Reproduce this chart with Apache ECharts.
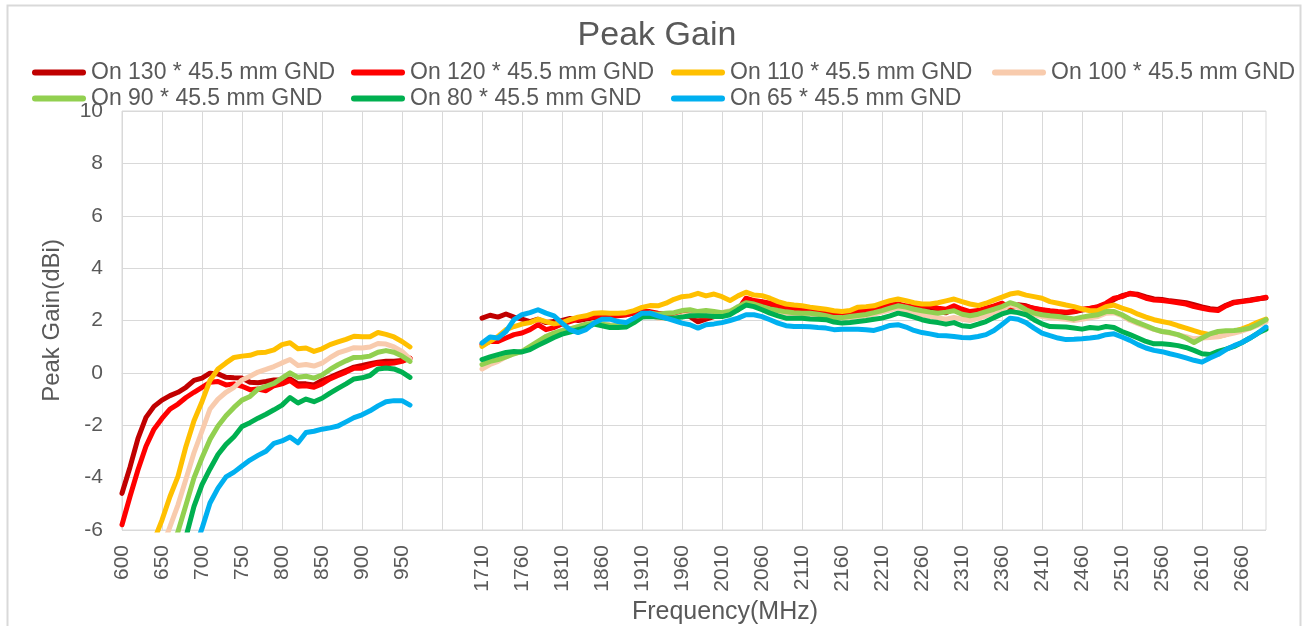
<!DOCTYPE html>
<html><head><meta charset="utf-8">
<script src="https://cdn.jsdelivr.net/npm/echarts@6/dist/echarts.min.js"></script>
<style>html,body{margin:0;padding:0;background:#fff}#c{width:1314px;height:626px}</style>
</head><body><div id="c"></div><script>
// ---- categories (MHz) ----
const lowFreq = [600,610,620,630,640,650,660,670,680,690,700,710,720,730,740,750,760,770,780,790,800,810,820,830,840,850,860,870,880,890,900,910,920,930,940,950,960];
const gapSlots = ['g1','g2','g3','g4','g5','g6','g7','g8'];
const gapNulls = [null,null,null,null,null,null,null,null];
const highFreq = [1710,1720,1730,1740,1750,1760,1770,1780,1790,1800,1810,1820,1830,1840,1850,1860,1870,1880,1890,1900,1910,1920,1930,1940,1950,1960,1970,1980,1990,2000,2010,2020,2030,2040,2050,2060,2070,2080,2090,2100,2110,2120,2130,2140,2150,2160,2170,2180,2190,2200,2210,2220,2230,2240,2250,2260,2270,2280,2290,2300,2310,2320,2330,2340,2350,2360,2370,2380,2390,2400,2410,2420,2430,2440,2450,2460,2470,2480,2490,2500,2510,2520,2530,2540,2550,2560,2570,2580,2590,2600,2610,2620,2630,2640,2650,2660,2670,2680,2690];
const yTicks = {min: -6, max: 10, interval: 2};

// ---- series names ----
const names = ['On 130 * 45.5 mm GND','On 120 * 45.5 mm GND','On 110 * 45.5 mm GND','On 100 * 45.5 mm GND','On 90 * 45.5 mm GND','On 80 * 45.5 mm GND','On 65 * 45.5 mm GND'];
const colors = ['#C00000','#FF0000','#FFC000','#F8CBAD','#92D050','#00B050','#00B0F0'];

// ---- values (dBi) ----
const g130Low = [-4.6,-3.6,-2.5,-1.7,-1.28,-1.04,-0.87,-0.74,-0.55,-0.29,-0.2,-0.01,-0.04,-0.17,-0.19,-0.2,-0.36,-0.38,-0.33,-0.27,-0.27,-0.23,-0.42,-0.42,-0.46,-0.29,-0.17,-0.04,0.09,0.22,0.28,0.35,0.41,0.44,0.44,0.47,0.56];
const g130High = [2.09,2.2,2.13,2.25,2.13,2.05,1.96,2.05,1.92,1.96,2.0,2.08,2.0,2.05,2.1,2.12,2.15,2.18,2.22,2.28,2.32,2.3,2.25,2.22,2.18,2.2,2.15,1.95,2.05,2.15,2.25,2.35,2.42,
  2.82,2.74,2.7,2.62,2.52,2.45,2.4,2.4,2.38,2.36,2.32,2.28,2.25,2.3,2.34,2.38,2.45,2.5,2.55,2.6,2.52,2.45,2.42,2.4,2.32,2.3,2.45,2.35,2.28,2.34,2.42,2.5,2.62,
  2.5,2.6,2.56,2.45,2.4,2.35,2.32,2.3,2.33,2.4,2.45,2.52,2.62,2.8,2.95,3.02,3.0,2.9,2.82,2.8,2.75,2.72,2.68,2.6,2.52,2.45,2.42,2.58,2.7,2.74,2.78,2.83,2.86];

const g120Low = [-5.8,-4.72,-3.7,-2.8,-2.15,-1.74,-1.38,-1.19,-0.94,-0.74,-0.55,-0.36,-0.33,-0.46,-0.42,-0.51,-0.64,-0.62,-0.68,-0.49,-0.42,-0.29,-0.51,-0.49,-0.55,-0.42,-0.23,-0.1,0.03,0.18,0.18,0.28,0.37,0.35,0.38,0.44,0.56];
const g120High = [1.08,1.2,1.2,1.33,1.46,1.52,1.65,1.84,1.65,1.73,1.87,1.96,2.05,2.11,2.13,2.13,2.15,2.2,2.22,2.3,2.34,2.34,2.28,2.24,2.22,2.28,2.25,2.15,2.13,2.22,2.28,2.34,2.41,
  2.85,2.76,2.72,2.66,2.56,2.47,2.43,2.43,2.41,2.38,2.34,2.3,2.28,2.32,2.37,2.41,2.47,2.53,2.59,2.63,2.56,2.51,2.53,2.56,2.47,2.43,2.56,2.43,2.34,2.38,2.47,2.56,2.66,
  2.47,2.56,2.53,2.47,2.41,2.37,2.34,2.32,2.34,2.43,2.47,2.53,2.66,2.85,2.91,3.04,2.97,2.85,2.78,2.76,2.72,2.68,2.63,2.53,2.47,2.41,2.38,2.56,2.68,2.72,2.76,2.82,2.89];

const g110Low = [-9.5,-8.8,-8.0,-7.2,-6.4,-5.62,-4.72,-3.95,-2.8,-1.83,-1.1,-0.29,0.15,0.38,0.59,0.64,0.67,0.77,0.79,0.88,1.08,1.15,0.92,0.95,0.82,0.92,1.08,1.18,1.28,1.4,1.38,1.38,1.54,1.47,1.37,1.2,0.99];
const g110High = [1.01,1.2,1.39,1.65,1.77,1.86,1.92,2.05,1.96,1.87,1.92,2.03,2.13,2.18,2.28,2.3,2.28,2.28,2.3,2.38,2.5,2.57,2.56,2.66,2.81,2.91,2.94,3.04,2.94,3.01,2.91,2.76,2.94,
  3.08,2.97,2.95,2.85,2.72,2.63,2.59,2.56,2.51,2.47,2.43,2.37,2.34,2.38,2.51,2.53,2.56,2.66,2.76,2.82,2.76,2.68,2.63,2.63,2.68,2.75,2.82,2.72,2.63,2.57,2.66,2.78,2.89,
  3.01,3.06,2.97,2.91,2.85,2.72,2.66,2.59,2.53,2.44,2.37,2.38,2.53,2.59,2.47,2.38,2.24,2.13,2.03,1.96,1.9,1.8,1.71,1.61,1.52,1.46,1.39,1.46,1.58,1.68,1.8,1.94,2.05];

const g100Low = [-10.5,-9.8,-9.0,-8.2,-7.5,-6.7,-5.87,-5.04,-4.05,-3.05,-2.22,-1.38,-1.0,-0.74,-0.55,-0.27,-0.13,0.03,0.13,0.24,0.38,0.51,0.28,0.32,0.26,0.37,0.58,0.76,0.86,0.96,0.95,0.99,1.12,1.1,0.99,0.82,0.54];
const g100High = [0.15,0.32,0.44,0.61,0.73,0.82,0.95,1.16,1.39,1.52,1.62,1.67,1.77,1.86,1.92,1.9,1.84,1.8,1.77,1.96,2.18,2.22,2.09,2.09,2.09,2.18,2.22,2.18,2.22,2.25,2.3,2.38,2.47,
  2.6,2.55,2.48,2.4,2.33,2.28,2.26,2.24,2.22,2.18,2.12,2.05,2.06,2.1,2.15,2.18,2.25,2.32,2.4,2.48,2.38,2.3,2.22,2.15,2.1,2.05,2.12,2.05,2.0,2.08,2.18,2.3,2.42,
  2.6,2.5,2.35,2.22,2.15,2.1,2.08,2.05,2.0,2.05,2.1,2.15,2.28,2.3,2.18,2.0,1.88,1.77,1.66,1.58,1.52,1.45,1.38,1.3,1.33,1.35,1.38,1.45,1.52,1.6,1.7,1.82,1.95];

const g90Low = [-11.5,-10.8,-10.0,-9.3,-8.5,-7.7,-6.9,-6.06,-5.04,-4.01,-3.24,-2.54,-2.03,-1.64,-1.32,-1.04,-0.9,-0.62,-0.51,-0.4,-0.2,0.0,-0.17,-0.13,-0.2,-0.08,0.13,0.31,0.46,0.59,0.6,0.64,0.79,0.85,0.79,0.64,0.44];
const g90High = [0.32,0.44,0.51,0.61,0.73,0.82,1.01,1.2,1.39,1.52,1.61,1.68,1.77,1.86,1.9,1.86,1.81,1.8,1.77,1.96,2.15,2.28,2.24,2.28,2.3,2.38,2.41,2.34,2.38,2.34,2.3,2.34,2.53,
  2.68,2.63,2.53,2.44,2.38,2.33,2.3,2.28,2.28,2.24,2.18,2.11,2.11,2.15,2.19,2.23,2.3,2.38,2.47,2.56,2.51,2.43,2.37,2.32,2.28,2.32,2.37,2.24,2.18,2.24,2.34,2.43,2.53,
  2.68,2.59,2.41,2.28,2.22,2.18,2.15,2.11,2.06,2.13,2.18,2.22,2.34,2.34,2.22,2.05,1.92,1.8,1.67,1.58,1.54,1.46,1.33,1.16,1.33,1.49,1.58,1.61,1.62,1.65,1.71,1.86,2.03];

const g80Low = [-12.5,-11.9,-11.2,-10.5,-9.8,-9.0,-8.2,-7.3,-6.26,-5.1,-4.27,-3.67,-3.12,-2.73,-2.44,-2.05,-1.9,-1.73,-1.58,-1.41,-1.23,-0.94,-1.15,-1.0,-1.1,-0.97,-0.77,-0.59,-0.42,-0.23,-0.19,-0.1,0.15,0.19,0.15,0.03,-0.17];
const g80High = [0.51,0.61,0.7,0.78,0.82,0.8,0.89,1.05,1.2,1.35,1.48,1.56,1.65,1.73,1.86,1.8,1.73,1.73,1.75,1.92,2.13,2.15,2.13,2.09,2.09,2.13,2.18,2.18,2.18,2.15,2.15,2.22,2.41,
  2.59,2.53,2.41,2.28,2.18,2.09,2.09,2.09,2.06,2.05,2.03,1.94,1.9,1.92,1.96,2.0,2.05,2.09,2.18,2.28,2.22,2.13,2.03,1.96,1.92,1.86,1.92,1.8,1.77,1.86,1.96,2.11,2.25,
  2.34,2.3,2.22,2.03,1.87,1.77,1.76,1.75,1.71,1.67,1.73,1.7,1.77,1.73,1.58,1.46,1.33,1.2,1.11,1.11,1.08,1.04,0.97,0.86,0.73,0.7,0.82,0.91,1.01,1.16,1.33,1.52,1.67];

const g65Low = [-13.5,-12.9,-12.3,-11.6,-10.9,-10.2,-9.4,-8.6,-7.8,-6.8,-5.94,-4.97,-4.4,-3.97,-3.79,-3.56,-3.33,-3.15,-2.99,-2.69,-2.6,-2.45,-2.67,-2.28,-2.23,-2.15,-2.1,-2.03,-1.87,-1.71,-1.6,-1.45,-1.26,-1.1,-1.06,-1.06,-1.23];
const g65High = [1.14,1.37,1.33,1.58,2.03,2.22,2.3,2.41,2.28,2.18,1.9,1.65,1.54,1.65,1.9,2.05,2.05,1.96,1.92,2.09,2.28,2.28,2.18,2.09,2.0,1.9,1.84,1.71,1.84,1.87,1.92,2.0,2.09,
  2.22,2.22,2.15,2.03,1.9,1.8,1.77,1.77,1.76,1.73,1.71,1.65,1.67,1.67,1.67,1.65,1.62,1.71,1.81,1.84,1.75,1.62,1.54,1.49,1.43,1.42,1.39,1.35,1.34,1.39,1.46,1.62,1.85,
  2.09,2.05,1.92,1.71,1.52,1.42,1.33,1.27,1.28,1.3,1.33,1.37,1.46,1.49,1.37,1.24,1.08,0.95,0.86,0.81,0.73,0.66,0.57,0.48,0.41,0.57,0.7,0.89,1.04,1.16,1.33,1.52,1.75];

const lows = [g130Low,g120Low,g110Low,g100Low,g90Low,g80Low,g65Low];
const highs = [g130High,g120High,g110High,g100High,g90High,g80High,g65High];

// ---- build ----
const FONT = 'Liberation Sans, Arial, sans-serif';
const TXT = '#595959';
const GRIDC = '#d9d9d9';
const categories = lowFreq.map(String).concat(gapSlots, highFreq.map(String));

const series = names.map((n, i) => ({
  name: n, type: 'line', data: lows[i].concat(gapNulls, highs[i]),
  symbol: 'none', connectNulls: false, smooth: false,
  lineStyle: {width: 5, color: colors[i], join: 'round', cap: 'round'},
  itemStyle: {color: colors[i]},
  emphasis: {disabled: true}
}));

// legend laid out as a 4-column grid: one component per entry
const legendCols = [32, 351, 671, 992];
const legendRows = [61, 87];
const PILL = 'path://M3,0 L51,0 A3,3 0 0 1 51,6 L3,6 A3,3 0 0 1 3,0 Z';
const legends = names.map((n, i) => ({
  left: legendCols[i % 4], top: legendRows[Math.floor(i / 4)],
  data: [{name: n, icon: PILL}], padding: 0,
  itemWidth: 54, itemHeight: 6, selectedMode: false,
  textStyle: {fontFamily: FONT, fontSize: 23, color: TXT}
}));

const chart = echarts.init(document.getElementById('c'), null, {renderer: 'canvas'});
chart.setOption({
  animation: false,
  backgroundColor: '#ffffff',
  textStyle: {fontFamily: FONT},
  title: {text: 'Peak Gain', left: 'center', top: 19, padding: 0,
    textStyle: {fontFamily: FONT, fontSize: 34, fontWeight: 'normal', color: TXT}},
  legend: legends,
  graphic: [{type: 'rect', shape: {x: 7.5, y: 5.5, width: 1293, height: 640},
    style: {fill: null, stroke: GRIDC, lineWidth: 2}, silent: true, z: -10}],
  grid: {left: 122, right: 48, top: 111, bottom: 96, show: true, borderColor: GRIDC, borderWidth: 1,
    containLabel: false, outerBoundsMode: 'none'},
  xAxis: {
    type: 'category', data: categories, boundaryGap: false,
    name: 'Frequency(MHz)', nameLocation: 'middle', nameGap: 64,
    nameTextStyle: {fontFamily: FONT, fontSize: 25, color: TXT, padding: [0, 0, 0, 62]},
    axisLine: {show: true, lineStyle: {color: GRIDC, width: 1}},
    axisTick: {show: false},
    axisLabel: {interval: 4, rotate: 90, margin: 15, fontFamily: FONT, fontSize: 21, color: TXT,
      formatter: v => (v.charAt(0) === 'g' ? '' : v)},
    splitLine: {show: true, interval: 4, lineStyle: {color: GRIDC, width: 1}}
  },
  yAxis: {
    type: 'value', min: yTicks.min, max: yTicks.max, interval: yTicks.interval,
    name: 'Peak Gain(dBi)', nameLocation: 'middle', nameGap: 58,
    nameTextStyle: {fontFamily: FONT, fontSize: 24, color: TXT},
    axisLine: {show: false}, axisTick: {show: false},
    axisLabel: {margin: 19, fontFamily: FONT, fontSize: 21, color: TXT},
    splitLine: {show: true, lineStyle: {color: GRIDC, width: 1}}
  },
  series: series
});
</script></body></html>
